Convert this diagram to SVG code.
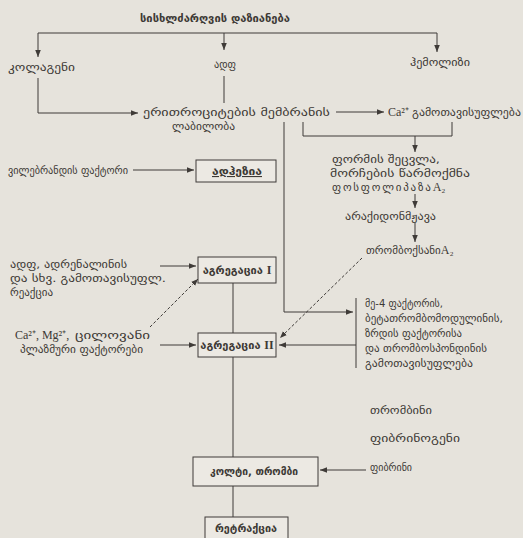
<svg xmlns="http://www.w3.org/2000/svg" width="523" height="538" viewBox="0 0 523 538">
<style>
.t{font-family:"DejaVu Sans",sans-serif;font-size:11px;fill:#3d3935}
.b{font-weight:bold}
.lat{font-family:"Liberation Serif",serif;font-size:12px;fill:#3d3935}
.ln{fill:none;stroke:#3f3b38;stroke-width:1}
.dash{stroke-dasharray:3,2}
.box{fill:#ece9e3;stroke:#3f3b38;stroke-width:1}
</style>
<defs>
<marker id="ah" viewBox="0 0 10 10" refX="10" refY="5" markerWidth="7" markerHeight="7" orient="auto" markerUnits="userSpaceOnUse">
<path d="M0,1 L10,5 L0,9 z" fill="#3f3b38"/>
</marker>
</defs>
<rect width="523" height="538" fill="#e6e3dc"/>
<g id="connectors">
<path class="ln" d="M38,33 H437 V52" marker-end="url(#ah)"/>
<path class="ln" d="M38,33 V57" marker-end="url(#ah)"/>
<path class="ln" d="M224,33 V50" marker-end="url(#ah)"/>
<path class="ln" d="M38,78 V113 H138" marker-end="url(#ah)"/>
<path class="ln" d="M224,76 V103"/>
<path class="ln" d="M336,112 H384" marker-end="url(#ah)"/>
<path class="ln" d="M303,122 V136 H452 V122"/>
<path class="ln" d="M415,136 V152" marker-end="url(#ah)"/>
<path class="ln" d="M415,194 V208" marker-end="url(#ah)"/>
<path class="ln" d="M415,223 V242" marker-end="url(#ah)"/>
<path class="ln" d="M284,122 V312 H353" marker-end="url(#ah)"/>
<path class="ln" d="M356,298 V368"/>
<path class="ln" d="M356,345 H279" marker-end="url(#ah)"/>
<path class="ln" d="M133,170 H194" marker-end="url(#ah)"/>
<path class="ln" d="M160,266 H196" marker-end="url(#ah)"/>
<path class="ln" d="M160,345 H196" marker-end="url(#ah)"/>
<path class="ln" d="M233,283 V333"/>
<path class="ln" d="M233,357 V457"/>
<path class="ln dash" d="M150,327 L198,279" marker-end="url(#ah)"/>
<path class="ln dash" d="M362,258 L280,338" marker-end="url(#ah)"/>
<path class="ln" d="M366,470 H320" marker-end="url(#ah)"/>
<path class="ln" d="M233,486 V517"/>
</g>
<g id="title"><text class="t b" x="140" y="22" textLength="150" lengthAdjust="spacingAndGlyphs">სისხლძარღვის დაზიანება</text></g>
<g id="collagen"><text class="t" x="8" y="71" textLength="67" lengthAdjust="spacingAndGlyphs">კოლაგენი</text></g>
<g id="adp"><text class="t" x="214" y="68" textLength="22" lengthAdjust="spacingAndGlyphs">ადფ</text></g>
<g id="hemolysis"><text class="t" x="410" y="66" textLength="60" lengthAdjust="spacingAndGlyphs">ჰემოლიზი</text></g>
<g id="membrane"><text class="t" x="143" y="116" textLength="187" lengthAdjust="spacingAndGlyphs">ერითროციტების მემბრანის</text><text class="t" x="172" y="130" textLength="63" lengthAdjust="spacingAndGlyphs">ლაბილობა</text></g>
<g id="ca-release"><text class="lat" x="388" y="116">Ca²⁺</text><text class="t" x="412" y="116" textLength="109" lengthAdjust="spacingAndGlyphs">გამოთავისუფლება</text></g>
<g id="shape-change"><text class="t" x="332" y="163" textLength="108" lengthAdjust="spacingAndGlyphs">ფორმის შეცვლა,</text><text class="t" x="330" y="177" textLength="140" lengthAdjust="spacingAndGlyphs">მორჩების წარმოქმნა</text><text class="t" x="332" y="191" font-size="10.5" letter-spacing="1.8">ფოსფოლიპაზა<tspan class="lat" letter-spacing="0">A₂</tspan></text></g>
<g id="arachidonic"><text class="t" x="345" y="220" textLength="91" lengthAdjust="spacingAndGlyphs">არაქიდონმჟავა</text></g>
<g id="thromboxane"><text class="t" x="366" y="254" font-size="10.5">თრომბოქსანი<tspan class="lat">A₂</tspan></text></g>
<g id="willebrand"><text class="t" x="8" y="174" textLength="120" lengthAdjust="spacingAndGlyphs">ვილებრანდის ფაქტორი</text></g>
<g id="adhesion"><rect class="box" x="196" y="160" width="80" height="22"/><text class="t b" x="212" y="175" textLength="50" lengthAdjust="spacingAndGlyphs" text-decoration="underline">ადჰეზია</text></g>
<g id="release"><text class="t" x="10" y="268" textLength="117" lengthAdjust="spacingAndGlyphs">ადფ, ადრენალინის</text><text class="t" x="10" y="282" textLength="156" lengthAdjust="spacingAndGlyphs">და სხვ. გამოთავისუფლ.</text><text class="t" x="10" y="296" textLength="43" lengthAdjust="spacingAndGlyphs">რეაქცია</text></g>
<g id="aggregation1"><rect class="box" x="198" y="257" width="78" height="26"/><text class="t b" x="237" y="274" font-size="10" text-anchor="middle">აგრეგაცია <tspan class="lat" font-weight="bold" font-size="11">I</tspan></text></g>
<g id="ions"><text class="lat" x="15" y="339">Ca²⁺, Mg²⁺,</text><text class="t" x="75" y="339" textLength="75" lengthAdjust="spacingAndGlyphs">ცილოვანი</text><text class="t" x="20" y="353" textLength="123" lengthAdjust="spacingAndGlyphs">პლაზმური ფაქტორები</text></g>
<g id="aggregation2"><rect class="box" x="198" y="333" width="78" height="24"/><text class="t b" x="237" y="349" font-size="10" text-anchor="middle">აგრეგაცია <tspan class="lat" font-weight="bold" font-size="11">II</tspan></text></g>
<g id="pf4"><text class="t" x="365" y="307" textLength="78" lengthAdjust="spacingAndGlyphs">მე-4 ფაქტორის,</text><text class="t" x="365" y="322" textLength="138" lengthAdjust="spacingAndGlyphs">ბეტათრომბომოდულინის,</text><text class="t" x="365" y="337" textLength="97" lengthAdjust="spacingAndGlyphs">ზრდის ფაქტორისა</text><text class="t" x="365" y="352" textLength="122" lengthAdjust="spacingAndGlyphs">და თრომბოსპონდინის</text><text class="t" x="365" y="367" textLength="108" lengthAdjust="spacingAndGlyphs">გამოთავისუფლება</text></g>
<g id="thrombin"><text class="t" x="370" y="414" textLength="62" lengthAdjust="spacingAndGlyphs">თრომბინი</text></g>
<g id="fibrinogen"><text class="t" x="370" y="442" textLength="90" lengthAdjust="spacingAndGlyphs">ფიბრინოგენი</text></g>
<g id="fibrin"><text class="t" x="370" y="471" textLength="42" lengthAdjust="spacingAndGlyphs">ფიბრინი</text></g>
<g id="clot"><rect class="box" x="193" y="457" width="125" height="29"/><text class="t b" x="210" y="475" textLength="88" lengthAdjust="spacingAndGlyphs">კოლტი, თრომბი</text></g>
<g id="retraction"><rect class="box" x="205" y="517" width="83" height="22"/><text class="t b" x="215" y="532" textLength="62" lengthAdjust="spacingAndGlyphs">რეტრაქცია</text></g>
</svg>
